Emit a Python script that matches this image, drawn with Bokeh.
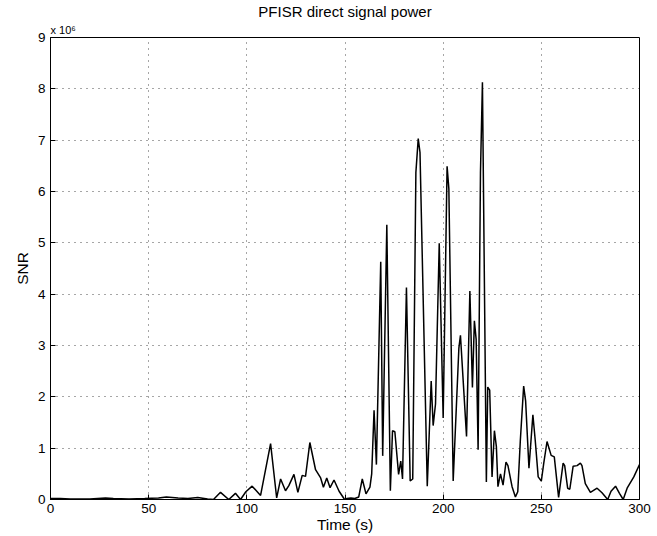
from bokeh.plotting import figure
from bokeh.models import Range1d, Title, FixedTicker
from bokeh.embed import file_html
from bokeh.resources import INLINE

# Time (s)
time_s = [0, 5, 10, 20, 28, 32, 40, 48, 55, 59, 65, 70, 75, 80, 83,
          86.6, 90.8, 94.2, 96.8, 99.5, 102.7, 107, 112.1, 115.2, 117.2, 119.7,
          121.4, 124, 126, 128.2, 129.9, 132.1, 135, 137.6, 139, 140.7, 142.4,
          144.4, 147, 149.8, 151, 153, 155, 157, 158.8, 160.7, 162.7, 163.6,
          164.8, 166, 168.2, 169.2, 171.3, 173.1, 174.2, 175.4, 177.3, 178.4,
          179.3, 181.3, 183.2, 184.5, 186.1, 187.3, 188.2, 191.9, 193.9, 194.9,
          196.1, 198, 200, 202, 202.9, 205.1, 208, 208.8, 211.9, 213.6, 214.9,
          215.9, 216.8, 217.8, 219, 220, 222, 222.7, 223.7, 224.9, 226.1, 227.1,
          227.9, 229.2, 230.5, 232, 233, 235.1, 236.8, 238, 239.3, 241, 242,
          243.7, 245.7, 246.9, 248.4, 250, 251.2, 252.9, 255, 256.6, 258.8,
          261.1, 261.9, 263.4, 264.5, 266.2, 268.2, 269.9, 270.7, 272.4, 275,
          278.4, 280.9, 283.8, 285.5, 287.8, 289.8, 291.7, 293.7, 297.1, 300]

# SNR in units of 10^6
snr_millions = [0.02, 0.02, 0.01, 0.01, 0.03, 0.02, 0.01, 0.02, 0.03, 0.05, 0.03, 0.02, 0.04, 0.01, 0.0,
                0.14, 0.0, 0.12, 0.0, 0.15, 0.26, 0.08, 1.09, 0.03, 0.4, 0.17,
                0.27, 0.49, 0.14, 0.47, 0.45, 1.11, 0.58, 0.42, 0.24, 0.42, 0.23,
                0.38, 0.16, 0.0, 0.02, 0.03, 0.02, 0.05, 0.4, 0.11, 0.24, 0.5,
                1.74, 0.68, 4.63, 0.85, 5.35, 0.17, 1.34, 1.32, 0.49, 0.75,
                0.4, 4.13, 0.36, 0.4, 6.37, 7.03, 6.76, 0.26, 2.31, 1.44,
                1.86, 4.99, 1.59, 6.49, 6.05, 0.36, 2.95, 3.2, 1.23, 4.06, 2.18,
                3.48, 3.12, 0.97, 6.37, 8.13, 0.34, 2.19, 2.13, 0.44, 1.34, 1.03,
                0.25, 0.5, 0.28, 0.73, 0.66, 0.25, 0.05, 0.15, 1.15, 2.21, 1.92,
                0.61, 1.65, 1.15, 0.44, 0.36, 0.7, 1.13, 0.86, 0.83, 0.04,
                0.71, 0.66, 0.22, 0.2, 0.65, 0.66, 0.71, 0.66, 0.31, 0.14,
                0.22, 0.13, 0.0, 0.16, 0.26, 0.12, 0.0, 0.22, 0.44, 0.68]

x_ticks = [0, 50, 100, 150, 200, 250, 300]
y_ticks = [0, 1, 2, 3, 4, 5, 6, 7, 8, 9]

FONT = "Liberation Sans"

p = figure(width=657, height=536, output_backend="svg", toolbar_location=None,
           x_range=Range1d(0, 300), y_range=Range1d(0, 9),
           min_border_left=50, min_border_right=18, min_border_top=35, min_border_bottom=37)

# multiplier (closest to the frame) then main title above it
p.add_layout(Title(text="x 10\u2076", align="left", text_font=FONT, text_font_size="11px",
                   text_font_style="normal", text_color="black", offset=0,
                   standoff=4), "above")
p.add_layout(Title(text="PFISR direct signal power", align="center", text_font=FONT,
                   text_font_size="15px", text_font_style="normal", text_color="black",
                   standoff=0), "above")

p.outline_line_color = "black"
p.outline_line_width = 1
p.background_fill_color = "white"
p.border_fill_color = "white"

for ax in (p.xaxis[0], p.yaxis[0]):
    ax.major_tick_in = 5
    ax.major_tick_out = 0
    ax.minor_tick_in = 0
    ax.minor_tick_out = 0
    ax.axis_line_color = "black"
    ax.major_tick_line_color = "black"
    ax.major_label_text_font = FONT
    ax.major_label_text_font_size = "13.5px"
    ax.major_label_text_color = "black"
    ax.axis_label_text_font = FONT
    ax.axis_label_text_font_size = "15.5px"
    ax.axis_label_text_font_style = "normal"
    ax.axis_label_text_color = "black"

p.xaxis[0].ticker = FixedTicker(ticks=x_ticks)
p.yaxis[0].ticker = FixedTicker(ticks=y_ticks)
p.xaxis[0].axis_label = "Time (s)"
p.yaxis[0].axis_label = "SNR"
p.xaxis[0].major_label_standoff = 4
p.yaxis[0].major_label_standoff = 5
p.xaxis[0].axis_label_standoff = 0
p.yaxis[0].axis_label_standoff = 4

p.xgrid.ticker = FixedTicker(ticks=x_ticks)
p.ygrid.ticker = FixedTicker(ticks=y_ticks)
for g in (p.xgrid, p.ygrid):
    g.grid_line_color = "black"
    g.grid_line_alpha = 0.7
    g.grid_line_dash = "1 5"
    g.grid_line_width = 1

p.line(time_s, snr_millions, line_color="black", line_width=1.5)

out = file_html(p, INLINE)
open("out.html", "w").write(out)
